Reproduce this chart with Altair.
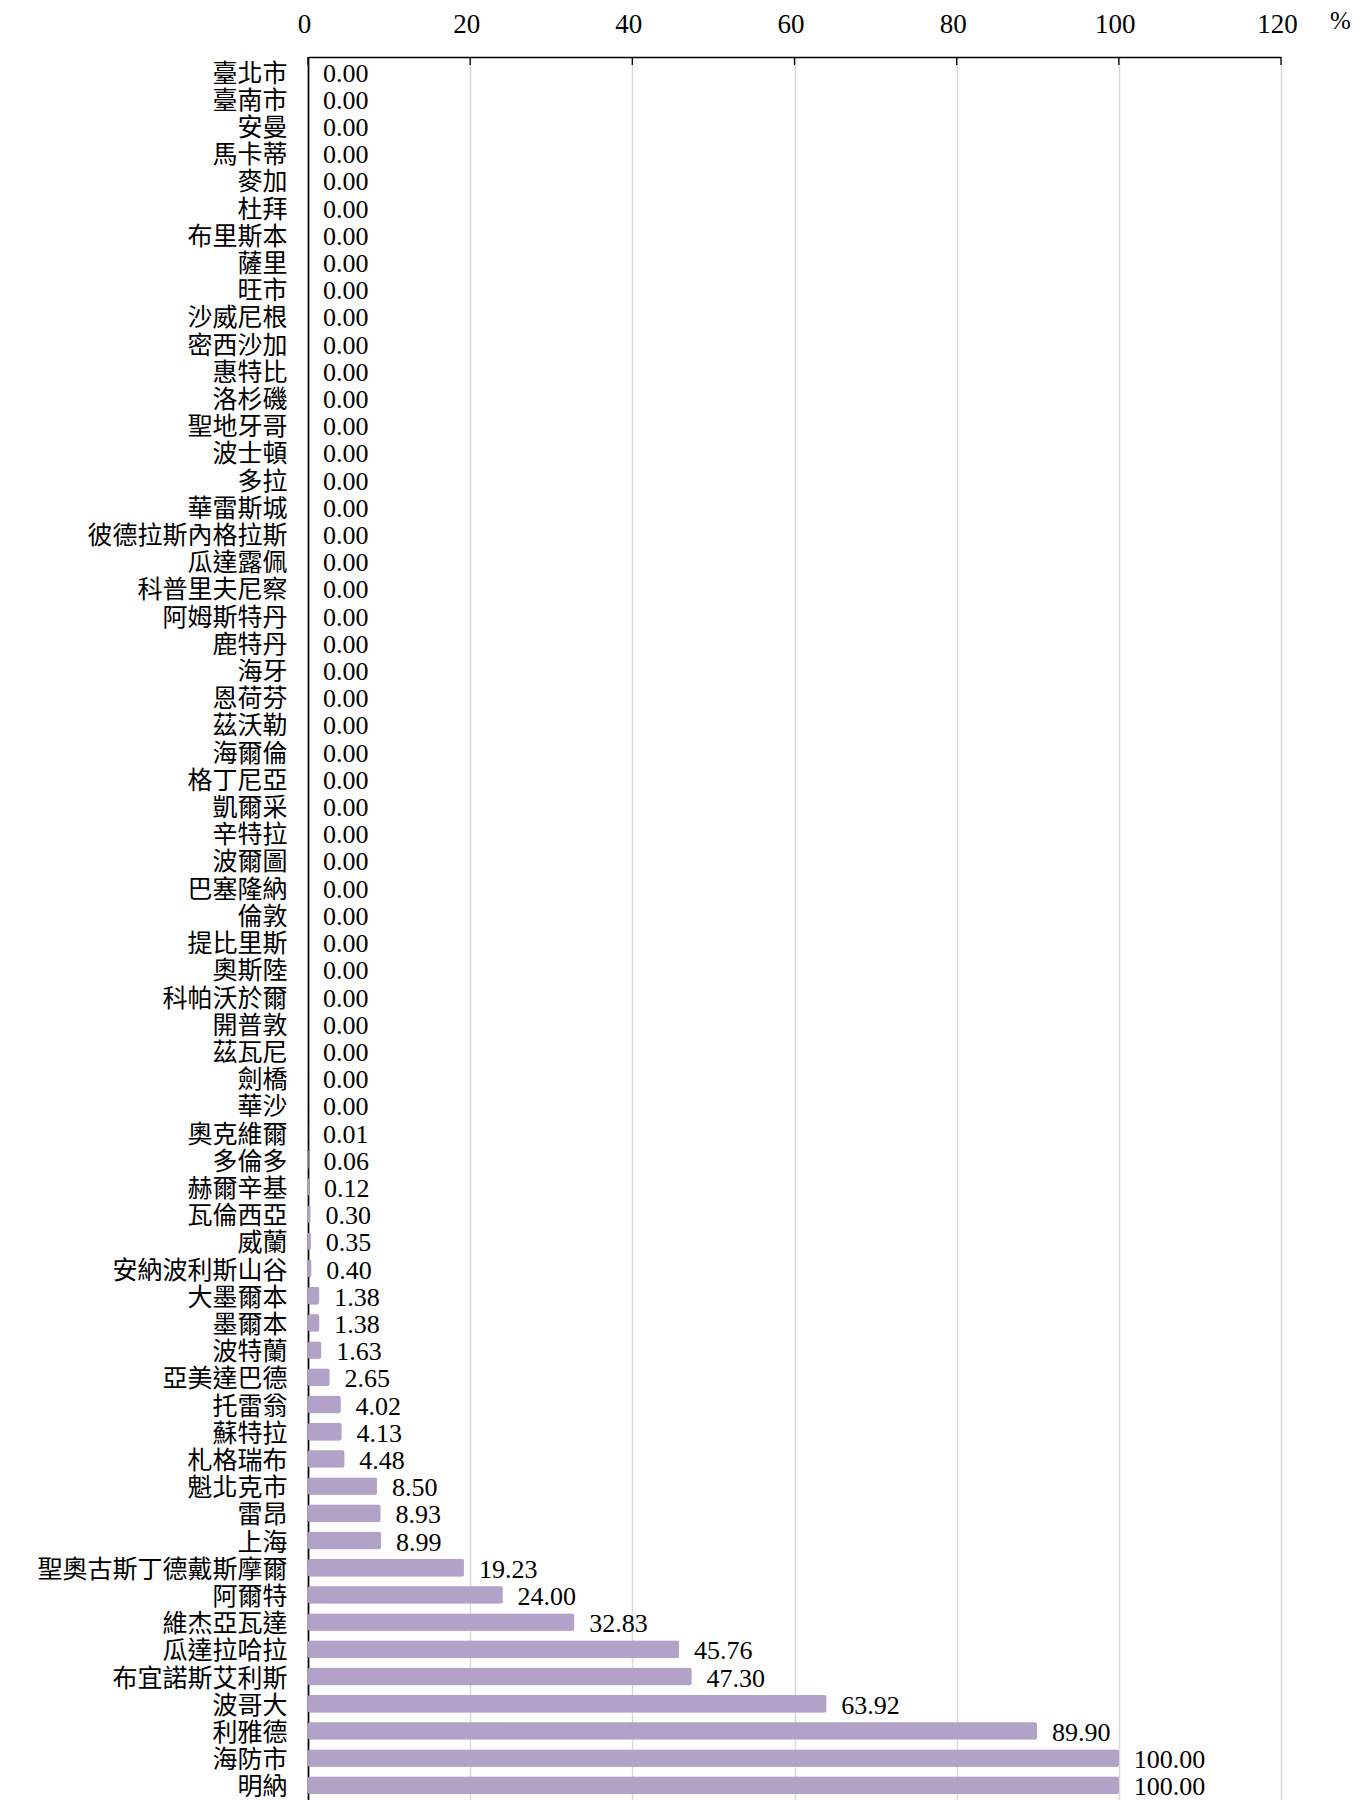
import altair as alt
import pandas as pd

cities = [
    "臺北市", "臺南市", "安曼", "馬卡蒂", "麥加", "杜拜", "布里斯本", "薩里", "旺市",
    "沙威尼根", "密西沙加", "惠特比", "洛杉磯", "聖地牙哥", "波士頓", "多拉", "華雷斯城",
    "彼德拉斯內格拉斯", "瓜達露佩", "科普里夫尼察", "阿姆斯特丹", "鹿特丹", "海牙", "恩荷芬",
    "茲沃勒", "海爾倫", "格丁尼亞", "凱爾采", "辛特拉", "波爾圖", "巴塞隆納", "倫敦",
    "提比里斯", "奧斯陸", "科帕沃於爾", "開普敦", "茲瓦尼", "劍橋", "華沙", "奧克維爾",
    "多倫多", "赫爾辛基", "瓦倫西亞", "威蘭", "安納波利斯山谷", "大墨爾本", "墨爾本",
    "波特蘭", "亞美達巴德", "托雷翁", "蘇特拉", "札格瑞布", "魁北克市", "雷昂", "上海",
    "聖奧古斯丁德戴斯摩爾", "阿爾特", "維杰亞瓦達", "瓜達拉哈拉", "布宜諾斯艾利斯",
    "波哥大", "利雅德", "海防市", "明納",
]
values = [0.0] * 37 + [
    0.004, 0.004, 0.01, 0.06, 0.12, 0.30, 0.35, 0.40, 1.38, 1.38, 1.63, 2.65,
    4.02, 4.13, 4.48, 8.50, 8.93, 8.99, 19.23, 24.00, 32.83, 45.76, 47.30,
    63.92, 89.90, 100.00, 100.00,
]
tick_values = [0, 20, 40, 60, 80, 100, 120]

df = pd.DataFrame({"city": cities, "value": values})
ticks_df = pd.DataFrame({"t": tick_values})

BAR = "#b2a2c7"
SERIF = "Liberation Serif"
CJK = "Liberation Serif, Noto Sans CJK TC"

x_enc = alt.X(
    "value:Q",
    scale=alt.Scale(domain=[0, 120], nice=False, zero=True),
    axis=alt.Axis(
        orient="top",
        values=tick_values,
        title="%",
        titleFont=SERIF,
        titleFontSize=25,
        titleFontWeight="normal",
        titleColor="black",
        titleAngle=0,
        titleAlign="center",
        titleBaseline="middle",
        titleX=1032,
        titleY=-37,
        labelFont=SERIF,
        labelFontSize=27,
        labelColor="black",
        labelPadding=19,
        labelFlush=False,
        labelOffset=-4,
        ticks=False,
        tickSize=0,
        domainColor="black",
        domainWidth=1.3,
        grid=True,
        gridColor="#d9d9d9",
        gridWidth=1.5,
    ),
)

y_enc = alt.Y(
    "city:N",
    sort=cities,
    scale=alt.Scale(paddingInner=0.36, paddingOuter=0.22),
    axis=alt.Axis(
        title=None,
        labelFont=CJK,
        labelFontSize=25,
        labelColor="black",
        labelPadding=21,
        labelLimit=0,
        labelOffset=2,
        ticks=False,
        domainColor="black",
        domainWidth=1.7,
        grid=False,
    ),
)

bars = alt.Chart(df).mark_bar(color=BAR, stroke=BAR, cornerRadius=2).encode(
    x=x_enc,
    y=y_enc,
    strokeWidth=alt.condition(alt.datum.value > 0, alt.value(1.5), alt.value(0)),
)

labels = alt.Chart(df).mark_text(
    align="left", baseline="middle", dx=15, dy=2,
    font=SERIF, fontSize=26, color="black",
).encode(
    x=alt.X("value:Q"),
    y=alt.Y("city:N", sort=cities),
    text=alt.Text("value:Q", format=".2f"),
)

tick_marks = alt.Chart(ticks_df).mark_rule(color="black", strokeWidth=1.3).encode(
    x=alt.X("t:Q"),
    y=alt.value(0),
    y2=alt.value(8),
)

chart = (
    alt.layer(bars, tick_marks, labels)
    .properties(
        width=973,
        height=1743,
        autosize=alt.AutoSizeParams(type="none"),
        padding={"left": 300, "top": 49, "right": 80, "bottom": 10},
    )
    .configure_view(strokeWidth=0)
)

chart.save("out.html", embed_options={"renderer": "svg", "actions": False})
